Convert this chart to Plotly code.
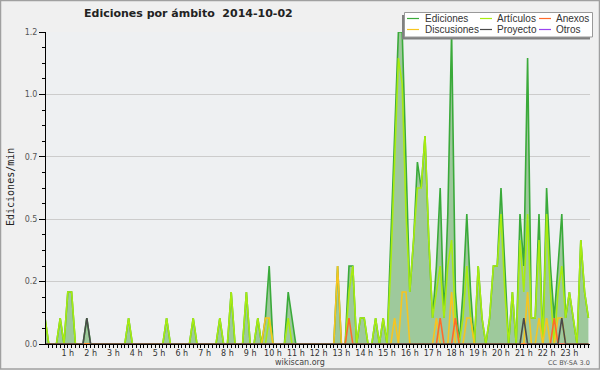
import plotly.graph_objects as go

# ---------------- data (10-minute bins, 0:00 .. 23:50) ----------------
ediciones = [
    0.1, 0, 0, 0, 0.1, 0, 0.2, 0.2, 0, 0, 0, 0.1,
    0, 0, 0, 0, 0, 0, 0, 0, 0, 0, 0.1, 0,
    0, 0, 0, 0, 0, 0, 0, 0, 0.1, 0, 0, 0,
    0, 0, 0, 0.1, 0, 0, 0, 0, 0, 0, 0.1, 0,
    0, 0.2, 0, 0, 0, 0.2, 0, 0, 0.1, 0, 0.1, 0.3,
    0, 0, 0, 0, 0.2, 0.1, 0, 0, 0, 0, 0, 0,
    0, 0, 0, 0, 0, 0.3, 0, 0, 0.3, 0.3, 0, 0.1,
    0.1, 0, 0, 0.1, 0, 0.1, 0, 0.4, 0.8, 1.2, 1.2, 0.7,
    0.2, 0.4, 0.7, 0.6, 0.8, 0.4, 0.1, 0.3, 0.6, 0.1, 0.5, 1.2,
    0.2, 0, 0.2, 0.5, 0.2, 0, 0.3, 0.1, 0, 0.1, 0.3, 0.3,
    0.6, 0.3, 0, 0.2, 0, 0.5, 0.3, 1.1, 0.1, 0.1, 0.5, 0,
    0.6, 0.3, 0.1, 0.3, 0.5, 0.1, 0.2, 0.1, 0, 0.4, 0.2, 0.1,
]
articulos = [
    0.1, 0, 0, 0, 0.1, 0, 0.2, 0.2, 0, 0, 0, 0,
    0, 0, 0, 0, 0, 0, 0, 0, 0, 0, 0.1, 0,
    0, 0, 0, 0, 0, 0, 0, 0, 0.1, 0, 0, 0,
    0, 0, 0, 0.1, 0, 0, 0, 0, 0, 0, 0.1, 0,
    0, 0.2, 0, 0, 0, 0.2, 0, 0, 0.1, 0, 0, 0.1,
    0, 0, 0, 0, 0.1, 0, 0, 0, 0, 0, 0, 0,
    0, 0, 0, 0, 0, 0, 0, 0, 0.2, 0.3, 0, 0.1,
    0.1, 0, 0, 0.1, 0, 0.1, 0, 0.3, 0.7, 1.1, 1.0, 0.5,
    0.2, 0.4, 0.6, 0.6, 0.8, 0.4, 0.1, 0.2, 0.3, 0.1, 0.3, 0.4,
    0.1, 0, 0.1, 0.3, 0.1, 0, 0.3, 0.1, 0, 0.1, 0.3, 0.3,
    0.5, 0.2, 0, 0.2, 0, 0.4, 0.2, 0.5, 0.1, 0.1, 0.4, 0,
    0.5, 0.2, 0, 0.2, 0.3, 0.1, 0.2, 0.1, 0, 0.4, 0.2, 0.1,
]
anexos = [
    0, 0, 0, 0, 0, 0, 0, 0, 0, 0, 0, 0,
    0, 0, 0, 0, 0, 0, 0, 0, 0, 0, 0, 0,
    0, 0, 0, 0, 0, 0, 0, 0, 0, 0, 0, 0,
    0, 0, 0, 0, 0, 0, 0, 0, 0, 0, 0, 0,
    0, 0, 0, 0, 0, 0, 0, 0, 0, 0, 0, 0,
    0, 0, 0, 0, 0, 0, 0, 0, 0, 0, 0, 0,
    0, 0, 0, 0, 0, 0, 0, 0, 0.1, 0, 0, 0,
    0, 0, 0, 0, 0, 0, 0, 0, 0, 0, 0, 0,
    0, 0, 0, 0, 0, 0, 0, 0, 0.1, 0, 0, 0,
    0.1, 0, 0, 0, 0, 0, 0, 0, 0, 0, 0, 0,
    0, 0, 0, 0, 0, 0, 0, 0, 0, 0, 0, 0,
    0, 0, 0.1, 0, 0, 0, 0, 0, 0, 0, 0, 0,
]
discusiones = [
    0, 0, 0, 0, 0, 0, 0, 0, 0, 0, 0, 0,
    0, 0, 0, 0, 0, 0, 0, 0, 0, 0, 0, 0,
    0, 0, 0, 0, 0, 0, 0, 0, 0, 0, 0, 0,
    0, 0, 0, 0, 0, 0, 0, 0, 0, 0, 0, 0,
    0, 0, 0, 0, 0, 0, 0, 0, 0, 0, 0.1, 0.1,
    0, 0, 0, 0, 0, 0, 0, 0, 0, 0, 0, 0,
    0, 0, 0, 0, 0, 0.3, 0, 0, 0, 0, 0, 0,
    0, 0, 0, 0, 0, 0, 0, 0, 0.1, 0, 0.2, 0.2,
    0, 0, 0, 0, 0, 0, 0, 0.1, 0, 0, 0, 0.2,
    0, 0, 0, 0.1, 0.1, 0, 0, 0, 0, 0, 0, 0,
    0, 0, 0, 0, 0, 0, 0, 0.2, 0, 0, 0.1, 0,
    0.1, 0, 0, 0.1, 0.1, 0, 0, 0, 0, 0, 0, 0,
]
proyecto = [
    0, 0, 0, 0, 0, 0, 0, 0, 0, 0, 0, 0.1,
    0, 0, 0, 0, 0, 0, 0, 0, 0, 0, 0, 0,
    0, 0, 0, 0, 0, 0, 0, 0, 0, 0, 0, 0,
    0, 0, 0, 0, 0, 0, 0, 0, 0, 0, 0, 0,
    0, 0, 0, 0, 0, 0, 0, 0, 0, 0, 0, 0,
    0, 0, 0, 0, 0, 0, 0, 0, 0, 0, 0, 0,
    0, 0, 0, 0, 0, 0, 0, 0, 0, 0, 0, 0,
    0, 0, 0, 0, 0, 0, 0, 0, 0, 0, 0, 0,
    0, 0, 0, 0, 0, 0, 0, 0, 0, 0, 0, 0,
    0, 0, 0, 0, 0, 0, 0, 0, 0, 0, 0, 0,
    0, 0, 0, 0, 0, 0, 0.1, 0, 0, 0, 0, 0,
    0, 0, 0, 0, 0.1, 0, 0, 0, 0, 0, 0, 0,
]
otros = [0] * 144  # no visible edits in this series

bins = list(range(144))
hour_labels = ["", "1 h", "2 h", "3 h", "4 h", "5 h", "6 h", "7 h", "8 h", "9 h", "10 h", "11 h",
               "12 h", "13 h", "14 h", "15 h", "16 h", "17 h", "18 h", "19 h", "20 h", "21 h",
               "22 h", "23 h"]
y_tickvals = [0, 0.24, 0.48, 0.72, 0.96, 1.2]
y_ticktext = ["0.0", "0.2", "0.5", "0.7", "1.0", "1.2"]

x_ticktext = [hour_labels[i // 6] if i % 6 == 0 else "" for i in bins]

# ---------------- geometry helpers ----------------
L, R, T, B = 46, 590, 32, 344
def px(x):
    return (x - L) / (R - L)
def py(y):
    return (B - y) / (B - T)

C_ED = "#3aaa3a"
C_AR = "#a8ec10"
C_AN = "#ff6a2a"
C_DI = "#f7c520"
C_PR = "#4a4a4a"
C_OT = "#9a44f0"
FILL = "rgb(158,201,156)"

fig = go.Figure()
fig.add_trace(go.Scatter(x=bins, y=ediciones, mode="lines", line=dict(width=0, color=C_ED),
                         fill="tozeroy", fillcolor=FILL, showlegend=False, hoverinfo="skip"))
for name, vals, col in [("Otros", otros, C_OT), ("Ediciones", ediciones, C_ED),
                        ("Artículos", articulos, C_AR), ("Discusiones", discusiones, C_DI),
                        ("Anexos", anexos, C_AN), ("Proyecto", proyecto, C_PR)]:
    fig.add_trace(go.Scatter(x=bins, y=vals, mode="lines", name=name,
                             line=dict(width=1.6, color=col), showlegend=False))

minor_vals = [round(0.06 * k, 2) for k in range(21)]

fig.update_layout(
    width=600, height=370,
    margin=dict(l=L, r=600 - R, t=T, b=370 - B, pad=0),
    paper_bgcolor="#f0f0f0", plot_bgcolor="#eef0f2",
    font=dict(family="DejaVu Sans", size=8, color="#444"),
    showlegend=False,
    xaxis=dict(range=[0.263, 143.42], tickmode="array", tickvals=bins, ticktext=x_ticktext,
               ticks="outside", ticklen=3, tickwidth=1, tickcolor="black", tickangle=0,
               ticklabelstandoff=-2,
               showline=True, linecolor="black", linewidth=1, showgrid=False, zeroline=False,
               tickfont=dict(size=8, color="#333")),
    yaxis=dict(range=[0, 1.2], tickmode="array", tickvals=y_tickvals, ticktext=y_ticktext,
               ticks="outside", ticklen=6, tickwidth=1, tickcolor="black",
               showline=True, linecolor="black", linewidth=1,
               showgrid=True, gridcolor="#cccccc", gridwidth=1, zeroline=False,
               tickfont=dict(size=8, color="#555"),
               minor=dict(tickvals=minor_vals, ticks="outside", ticklen=3, tickcolor="black",
                          showgrid=False)),
)

shapes = []
# outer frame
shapes.append(dict(type="rect", xref="paper", yref="paper", x0=px(0.5), x1=px(599.5),
                   y0=py(369), y1=py(0.5), line=dict(color="#a0a0a0", width=1.5), layer="below"))
# legend shadow + box
shapes.append(dict(type="rect", xref="paper", yref="paper", x0=px(402), x1=px(590),
                   y0=py(39.5), y1=py(15), fillcolor="#808080", line=dict(width=0), layer="above"))
shapes.append(dict(type="rect", xref="paper", yref="paper", x0=px(404.5), x1=px(592.5),
                   y0=py(37), y1=py(12.5), fillcolor="white", line=dict(color="#999999", width=1),
                   layer="above"))

annotations = []
legend_items = [
    ("Ediciones", C_ED, 407, 423, 18.5), ("Artículos", C_AR, 480, 495, 18.5),
    ("Anexos", C_AN, 539, 554, 18.5), ("Discusiones", C_DI, 407, 423, 29.5),
    ("Proyecto", C_PR, 480, 495, 29.5), ("Otros", C_OT, 539, 554, 29.5),
]
for name, col, lx, tx, ly in legend_items:
    shapes.append(dict(type="line", xref="paper", yref="paper", x0=px(lx), x1=px(lx + 12),
                       y0=py(ly), y1=py(ly), line=dict(color=col, width=1.2), layer="above"))
    annotations.append(dict(text=name, xref="paper", yref="paper", x=px(tx), y=py(ly),
                            xanchor="left", yanchor="middle", showarrow=False,
                            font=dict(family="Liberation Sans", size=10, color="#333")))

annotations.append(dict(text="<b>Ediciones por ámbito  2014-10-02</b>", xref="paper", yref="paper",
                        x=px(188), y=py(14), xanchor="center", yanchor="middle", showarrow=False,
                        font=dict(family="DejaVu Sans", size=11, color="#222")))
annotations.append(dict(text="Ediciones/min", xref="paper", yref="paper", x=px(10), y=py(187),
                        xanchor="center", yanchor="middle", textangle=-90, showarrow=False,
                        font=dict(family="DejaVu Sans Mono", size=10, color="#222")))
annotations.append(dict(text="wikiscan.org", xref="paper", yref="paper", x=px(300), y=py(362.5),
                        xanchor="center", yanchor="middle", showarrow=False,
                        font=dict(family="DejaVu Sans", size=8, color="#444")))
annotations.append(dict(text="CC BY-SA 3.0", xref="paper", yref="paper", x=px(569), y=py(363),
                        xanchor="center", yanchor="middle", showarrow=False,
                        font=dict(family="DejaVu Sans", size=6.5, color="#555")))

fig.update_layout(shapes=shapes, annotations=annotations)
fig.write_html("out.html", config={"displayModeBar": False},
               post_script="document.body.style.margin='0px';document.body.style.overflow='hidden';")
